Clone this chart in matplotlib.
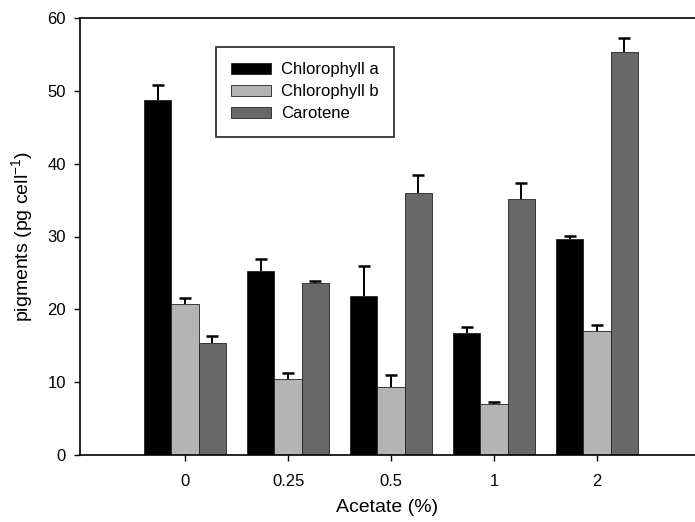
import matplotlib
matplotlib.use("Agg")
import matplotlib.pyplot as plt
import numpy as np

plt.rcParams['font.family'] = ['Liberation Sans', 'DejaVu Sans']

categories = ["0", "0.25", "0.5", "1", "2"]
chl_a = [48.7, 25.3, 21.8, 16.8, 29.7]
chl_a_err = [2.1, 1.6, 4.1, 0.8, 0.4]
chl_b = [20.7, 10.4, 9.4, 7.0, 17.0]
chl_b_err = [0.8, 0.8, 1.6, 0.3, 0.8]
carotene = [15.4, 23.6, 36.0, 35.1, 55.4]
carotene_err = [1.0, 0.3, 2.5, 2.3, 1.8]

series = [
    ("Chlorophyll a", chl_a, chl_a_err, "#000000"),
    ("Chlorophyll b", chl_b, chl_b_err, "#b4b4b4"),
    ("Carotene", carotene, carotene_err, "#686868"),
]

fig = plt.figure(figsize=(6.95, 5.22), dpi=100)
ax = fig.add_axes([80/695, 67/522, 1 - 80/695, (455-18)/522])

x = np.arange(len(categories))
width = 0.265
offsets = [-width, 0, width]
for (label, vals, errs, color), off in zip(series, offsets):
    ax.bar(x + off, vals, width, color=color, edgecolor="#222222", linewidth=0.6,
           label=label, zorder=2)
    eb = ax.errorbar(x + off, vals, yerr=[np.zeros(len(vals)), errs], fmt="none",
                     ecolor="black", elinewidth=1.4, capsize=4.2, capthick=1.8, zorder=3)
    caps = eb[1]
    if len(caps) >= 2:
        caps[0].set_visible(False)

ax.set_xlim(-1.02, 4.95)
ax.set_ylim(0, 60)
ax.set_yticks([0, 10, 20, 30, 40, 50, 60])
ax.set_xticks(x)
ax.set_xticklabels(categories)
ax.spines['right'].set_visible(False)
for s in ['left', 'top', 'bottom']:
    ax.spines[s].set_linewidth(1.2)
ax.tick_params(axis='both', labelsize=12, direction='out', length=4, width=1)
ax.tick_params(axis='x', pad=10)
ax.tick_params(axis='y', pad=6)
ax.set_xlabel("Acetate (%)", fontsize=14, labelpad=7)
ax.set_ylabel("pigments (pg cell$^{\\mathregular{-1}}$)", fontsize=14, labelpad=8)

leg = ax.legend(loc="upper left", bbox_to_anchor=((216-80)/615, (455-47)/437),
                fontsize=12, frameon=True, fancybox=False, edgecolor="black",
                handlelength=2.4, handleheight=0.7, handletextpad=0.6,
                borderpad=0.92, labelspacing=0.42, borderaxespad=0)
leg.get_frame().set_linewidth(1.3)

fig.savefig("out.png", dpi=100)
